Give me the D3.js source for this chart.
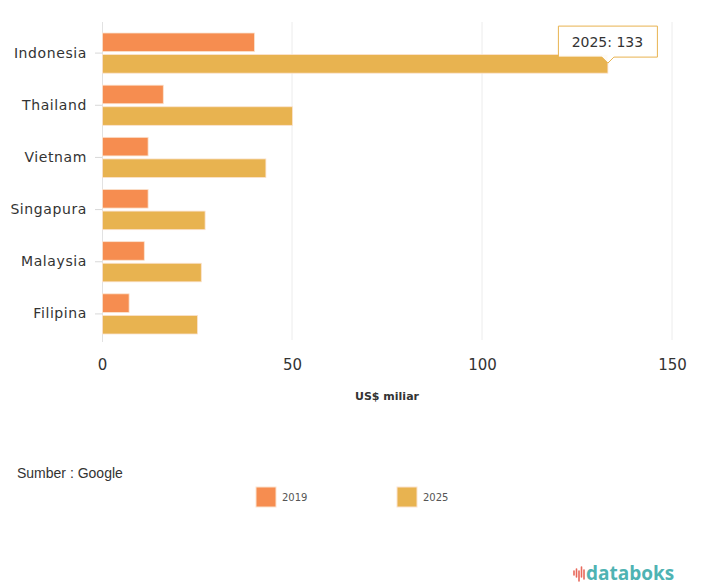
<!DOCTYPE html>
<html lang="id">
<head>
  <meta charset="UTF-8">
  <title>Ekonomi Digital Asia Tenggara</title>
  <script src="https://d3js.org/d3.v7.min.js"></script>
  <style>
    body { margin: 0; background: #fff; }
    svg { display: block; font-family: "DejaVu Sans", Verdana, sans-serif; }
  </style>
</head>
<body>
  <div id="chart"></div>

  <script>
    // data
    const categories = ['Indonesia', 'Thailand', 'Vietnam', 'Singapura', 'Malaysia', 'Filipina'];
    const seriesNames = ['2019', '2025'];
    const values2019 = [40, 16, 12, 12, 11, 7];
    const values2025 = [133, 50, 43, 27, 26, 25];
    const xTicks = [0, 50, 100, 150];
    const colors = ['#f68d50', '#e8b350'];

    const width = 707, height = 585;
    const margin = { top: 27, left: 102, right: 35, bottom: 245 };
    const font = '"DejaVu Sans", Verdana, sans-serif';

    const svg = d3.select('#chart').append('svg')
      .attr('width', width)
      .attr('height', height);

    const x = d3.scaleLinear()
      .domain([0, 150])
      .range([margin.left, width - margin.right]);

    const y = d3.scaleBand()
      .domain(categories)
      .range([margin.top, height - margin.bottom])
      .padding(0);

    const ySub = d3.scaleBand()
      .domain(seriesNames)
      .range([6, y.bandwidth() - 6])
      .paddingInner(0.14);

    // grid lines
    svg.append('g')
      .selectAll('line')
      .data(xTicks.slice(1))
      .join('line')
      .attr('x1', d => x(d)).attr('x2', d => x(d))
      .attr('y1', margin.top - 5).attr('y2', height - margin.bottom)
      .attr('stroke', '#ececec')
      .attr('stroke-width', 1);

    // y axis
    const yAxis = svg.append('g')
      .attr('transform', `translate(${margin.left},0)`)
      .call(d3.axisLeft(y).tickSize(7).tickPadding(8))
      .attr('font-family', font)
      .attr('font-size', 14);
    yAxis.select('.domain')
      .attr('d', `M0.5,${margin.top - 5}V${height - margin.bottom + 2}`)
      .attr('stroke', '#e2e2e2');
    yAxis.selectAll('.tick line').attr('stroke', '#d8d8d8');
    yAxis.selectAll('.tick text')
      .attr('fill', '#333')
      .attr('letter-spacing', 0.6);

    // x axis labels
    const xAxis = svg.append('g')
      .attr('transform', `translate(0,${height - margin.bottom})`)
      .call(d3.axisBottom(x).tickValues(xTicks).tickSize(0).tickPadding(19))
      .attr('font-family', font)
      .attr('font-size', 15);
    xAxis.select('.domain').remove();
    xAxis.selectAll('.tick text').attr('fill', '#333');

    svg.append('text')
      .attr('x', (x(0) + x(150)) / 2)
      .attr('y', 400)
      .attr('text-anchor', 'middle')
      .attr('fill', '#333')
      .style('font-size', '11px')
      .style('font-weight', 'bold')
      .text('US$ miliar');

    // bars
    const rows = categories.map((c, i) => ({ cat: c, vals: [values2019[i], values2025[i]] }));
    svg.append('g')
      .selectAll('g')
      .data(rows)
      .join('g')
      .attr('transform', d => `translate(0,${y(d.cat)})`)
      .selectAll('rect')
      .data(d => d.vals.map((v, j) => ({ s: seriesNames[j], v, j })))
      .join('rect')
      .attr('x', x(0) + 0.5)
      .attr('y', d => ySub(d.s))
      .attr('width', d => x(d.v) - x(0))
      .attr('height', ySub.bandwidth())
      .attr('fill', d => colors[d.j])
      .attr('stroke', '#fbe3cf')
      .attr('stroke-width', 0.8);

    // tooltip for Indonesia 2025
    const tipX = x(values2025[0]);
    const tipY = y(categories[0]) + ySub('2025') + 8;
    const boxW = 99, boxH = 31;
    const bx = tipX - boxW / 2, by = tipY - 37;
    const tip = svg.append('g');
    tip.append('path')
      .attr('d', `M${bx + 0.5},${by + 0.5}h${boxW}v${boxH}h${-(boxW / 2 - 6)}l-6,6l-6,-6h${-(boxW / 2 - 6)}z`)
      .attr('fill', '#fff')
      .attr('fill-opacity', 0.95)
      .attr('stroke', '#e8b350')
      .attr('stroke-width', 1);
    tip.append('text')
      .attr('x', bx + boxW / 2)
      .attr('y', by + 21)
      .attr('text-anchor', 'middle')
      .attr('fill', '#333')
      .style('font-size', '14px')
      .text('2025: 133');

    // source
    svg.append('text')
      .attr('x', 17)
      .attr('y', 478)
      .attr('fill', '#333')
      .style('font-family', '"Liberation Sans Narrow", "Liberation Sans", Arial, sans-serif')
      .style('font-size', '14px')
      .text('Sumber : Google');

    // legend
    const legendX = [256, 397];
    const legend = svg.append('g')
      .selectAll('g')
      .data(seriesNames)
      .join('g')
      .attr('transform', (d, i) => `translate(${legendX[i]},487)`);
    legend.append('rect')
      .attr('width', 20).attr('height', 20)
      .attr('fill', (d, i) => colors[i])
      .attr('stroke', '#fbe3cf');
    legend.append('text')
      .attr('x', 26).attr('y', 14)
      .attr('fill', '#555')
      .style('font-size', '10px')
      .text(d => d);

    // databoks logo
    const logo = svg.append('g').attr('transform', 'translate(574,566)');
    const icon = [[0, 5, 9], [2.5, 3, 11], [5, 5, 15], [7.5, 1, 11], [10, 4, 13]];
    logo.selectAll('line')
      .data(icon)
      .join('line')
      .attr('x1', d => d[0]).attr('x2', d => d[0])
      .attr('y1', d => d[1]).attr('y2', d => d[2])
      .attr('stroke', '#e8685a')
      .attr('stroke-width', 1.6)
      .attr('stroke-linecap', 'round');
    logo.append('text')
      .attr('x', 12).attr('y', 14)
      .attr('fill', '#4fb3b3')
      .style('font-family', '"Open Sans", sans-serif')
      .style('font-size', '19px')
      .style('font-weight', 'bold')
      .text('databoks');
  </script>
</body>
</html>
